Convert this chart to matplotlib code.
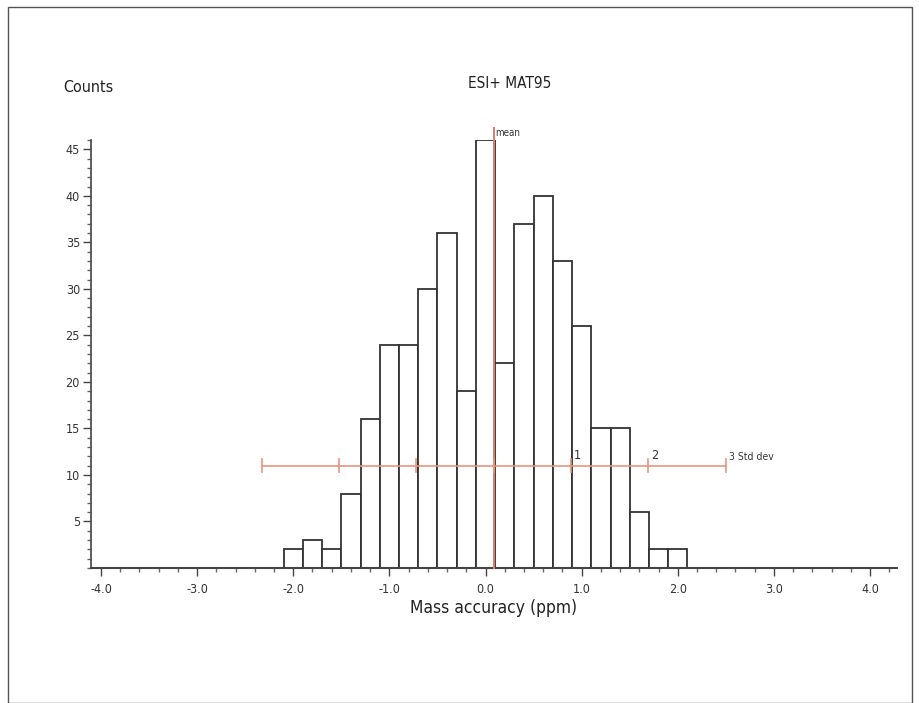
import matplotlib
matplotlib.use("Agg")
from matplotlib import pyplot as plt
from matplotlib.patches import Rectangle
from matplotlib.ticker import MultipleLocator, FormatStrFormatter
import numpy as np

# bin centres (ppm) and counts
bin_centres = [-2.0, -1.8, -1.6, -1.4, -1.2, -1.0, -0.8, -0.6, -0.4, -0.2, 0.0,
               0.2, 0.4, 0.6, 0.8, 1.0, 1.2, 1.4, 1.6, 1.8, 2.0]
counts = [2, 3, 2, 8, 16, 24, 24, 30, 36, 19, 46,
          22, 37, 40, 33, 26, 15, 15, 6, 2, 2]
bin_width = 0.2

mean_ppm = 0.085
std_ppm = 0.805
std_bar_level = 11
std_labels = ["1", "2", "3 Std dev"]

plt.rcParams['font.family'] = ['DejaVu Sans']
plt.rcParams['font.stretch'] = 'condensed'
plt.rcParams['axes.unicode_minus'] = False

fig = plt.figure(figsize=(9.2, 7.03), dpi=100)
ax = fig.add_axes([91 / 920, 135 / 703, 806 / 920, 428 / 703])

ax.bar(bin_centres, counts, width=bin_width, color="white",
       edgecolor="#333333", linewidth=1.3, zorder=2)

# mean line
red = "#e07a6a"
ax.plot([mean_ppm, mean_ppm], [0, 47.3], color=red, linewidth=1.4,
        zorder=3, clip_on=False)
ax.text(mean_ppm + 0.02, 46.2, "mean", fontsize=7, color="#333333",
        ha="left", va="bottom")

# std dev bar
orange = "#e8947a"
ax.plot([mean_ppm - 3 * std_ppm, mean_ppm + 3 * std_ppm],
        [std_bar_level, std_bar_level], color=orange, linewidth=1.2, zorder=3)
for k in range(-3, 4):
    xk = mean_ppm + k * std_ppm
    ax.plot([xk, xk], [std_bar_level - 0.7, std_bar_level + 0.7],
            color=orange, linewidth=1.2, zorder=3)
for k, lab in zip([1, 2, 3], std_labels):
    ax.text(mean_ppm + k * std_ppm + 0.03, std_bar_level + 0.4, lab,
            fontsize=9 if k < 3 else 7.5, color="#333333",
            ha="left", va="bottom")

ax.set_xlim(-4.104, 4.28)
ax.set_ylim(0, 46.0)
ax.spines["top"].set_visible(False)
ax.spines["right"].set_visible(False)
ax.spines["left"].set_color("#444444")
ax.spines["bottom"].set_color("#444444")
ax.spines["left"].set_linewidth(1.2)
ax.spines["bottom"].set_linewidth(1.5)

ax.xaxis.set_major_locator(MultipleLocator(1.0))
ax.xaxis.set_minor_locator(MultipleLocator(0.2))
ax.xaxis.set_major_formatter(FormatStrFormatter("%.1f"))
ax.yaxis.set_minor_locator(MultipleLocator(1))
ax.set_yticks([5, 10, 15, 20, 25, 30, 35, 40, 45])
ax.tick_params(axis="both", which="major", labelsize=9, colors="#444444",
               labelcolor="#333333", length=6, width=1)
ax.tick_params(axis="both", which="minor", length=3, width=1, colors="#666666")
ax.tick_params(axis="x", which="major", pad=5)
ax.tick_params(axis="y", which="major", pad=2)

ax.set_xlabel("Mass accuracy (ppm)", fontsize=12.5, color="#222222", labelpad=2)

fig.text(63 / 920, 1 - 88 / 703, "Counts", fontsize=11.5,
         color="#222222", ha="left", va="center")
fig.text(510 / 920, 1 - 83 / 703, "ESI+ MAT95", fontsize=11,
         color="#222222", ha="center", va="center")

# frame around the figure
fig.patches.append(Rectangle((8 / 920, 0), 904 / 920, 1 - 7 / 703,
                             transform=fig.transFigure, fill=False,
                             edgecolor="#555555", linewidth=1.0))

fig.savefig("out.png", dpi=100)
